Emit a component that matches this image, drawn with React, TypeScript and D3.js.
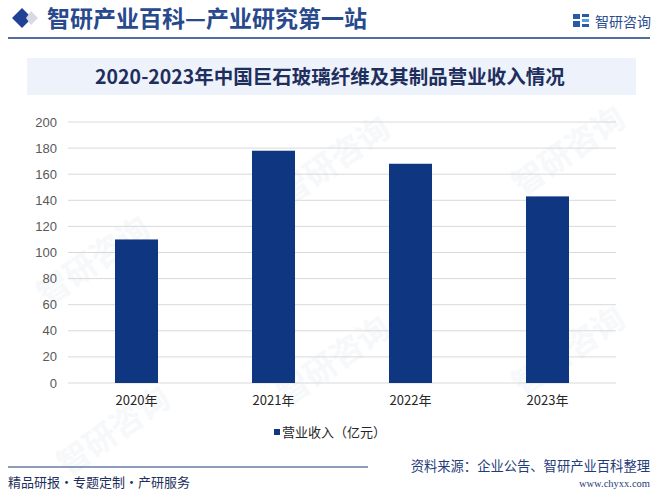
import React from "react";
import * as d3 from "d3";

const categories = ["2020年", "2021年", "2022年", "2023年"];
const revenue = [110, 178, 168, 143];
const yTicks = [0, 20, 40, 60, 80, 100, 120, 140, 160, 180, 200];
const seriesName = "营业收入（亿元）";
const chartTitle = "2020-2023年中国巨石玻璃纤维及其制品营业收入情况";
const headerTitle = "智研产业百科—产业研究第一站";
const sourceText = "资料来源：企业公告、智研产业百科整理";
const footerLeft = "精品研报·专题定制·产研服务";

const W = 662;
const H = 504;
const sans = "'Microsoft YaHei', 'Noto Sans CJK SC', 'Noto Sans', sans-serif";

export default function App() {
  const x = d3.scaleBand<string>().domain(categories).range([68, 616]).paddingInner(0.686).paddingOuter(0.343);
  const y = d3.scaleLinear().domain([0, 200]).range([383, 122]);

  const watermarks = [
    [100, 270], [340, 170], [575, 160], [120, 440], [340, 370], [575, 360],
  ];

  return (
    <svg width={W} height={H} style={{ position: "absolute", left: 0, top: 0, background: "#fff" }}>
      <rect x={0} y={0} width={W} height={H} fill="#fff" />
      {/* watermarks */}
      {watermarks.map(([wx, wy], i) => (
        <g key={i} transform={`translate(${wx},${wy}) rotate(-35)`} opacity={0.5}>
          <text x={0} y={0} fontSize={32} fontFamily={sans} fontWeight="bold" fill="#eef2f7" textAnchor="middle">
            智研咨询
          </text>
        </g>
      ))}

      {/* header */}
      <path d="M22,8 L32,18 L22,28 L12,18 Z" fill="#1f4296" />
      <path d="M31,11 L38,18 L31,25 L26,18 Z" fill="#d5dae3" />
      <text x={47} y={27} fontSize={23} fontWeight="bold" fontFamily={sans} fill="#284a8c">
        {headerTitle}
      </text>
      <line x1={8} x2={650} y1={38} y2={38} stroke="#1f3d7a" strokeWidth={1.5} />
      {/* logo */}
      <g transform="translate(573,14)">
        <rect x={0} y={0} width={7} height={5} fill="#2a59a8" />
        <rect x={0} y={7} width={7} height={6} fill="#2a59a8" />
        <rect x={9} y={0} width={7} height={3} fill="#2a59a8" />
        <rect x={9} y={5} width={7} height={3} fill="#4aa3df" />
        <rect x={9} y={10} width={7} height={3} fill="#2a59a8" />
      </g>
      <text x={595} y={27} fontSize={14} fontFamily={sans} fill="#2a4d8f">
        智研咨询
      </text>

      {/* title band */}
      <rect x={27} y={58} width={609} height={37} fill="#eef2fa" />
      <text x={330} y={84} fontSize={19.5} fontWeight="bold" fontFamily={sans} fill="#1e2f5e" textAnchor="middle">
        {chartTitle}
      </text>

      {/* grid */}
      {yTicks.map((t) => (
        <g key={t}>
          <line x1={68} x2={616} y1={y(t)} y2={y(t)} stroke="#d9d9d9" strokeWidth={1} />
          <text x={57} y={y(t) + 4.5} fontSize={13} fontFamily="Arial, 'Liberation Sans', sans-serif" fill="#595959" textAnchor="end">
            {t}
          </text>
        </g>
      ))}

      {/* bars */}
      {categories.map((c, i) => (
        <rect key={c} x={x(c)} y={y(revenue[i])} width={x.bandwidth()} height={y(0) - y(revenue[i])} fill="#0f3680" />
      ))}

      {/* x labels */}
      {categories.map((c) => (
        <text key={c} x={(x(c) as number) + x.bandwidth() / 2} y={405} fontSize={13} fontFamily={sans} fill="#262626" textAnchor="middle">
          {c}
        </text>
      ))}

      {/* legend */}
      <rect x={274} y={429} width={6} height={6} fill="#0f3680" />
      <text x={282} y={437} fontSize={13} fontFamily={sans} fill="#262626">
        {seriesName}
      </text>

      {/* footer */}
      <line x1={8} x2={368} y1={467} y2={467} stroke="#1f3d7a" strokeWidth={1.2} />
      <text x={8} y={487} fontSize={13} fontFamily={sans} fill="#1e2f5e">
        {footerLeft}
      </text>
      <text x={650} y={471} fontSize={13.3} fontFamily={sans} fill="#1f3d7a" textAnchor="end">
        {sourceText}
      </text>
      <text x={650} y={487} fontSize={10.5} fontFamily="'Liberation Serif', 'DejaVu Serif', serif" fill="#1f3d7a" textAnchor="end">
        www.chyxx.com
      </text>
    </svg>
  );
}
